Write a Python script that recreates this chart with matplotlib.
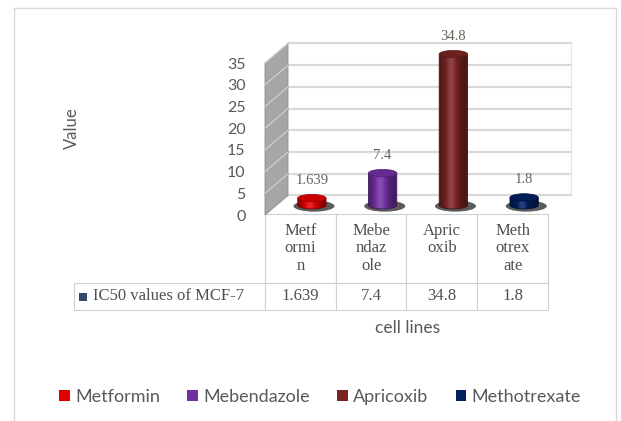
import numpy as np
import matplotlib
matplotlib.use("Agg")
import matplotlib.pyplot as plt
from matplotlib.patches import Ellipse, Polygon, Patch, Rectangle
from matplotlib.lines import Line2D
from matplotlib.colors import to_rgb

# --- data ---
drugs = ['Metformin', 'Mebendazole', 'Apricoxib', 'Methotrexate']
ic50 = [1.639, 7.4, 34.8, 1.8]
header_labels = ['Metf\normi\nn', 'Mebe\nndaz\nole', 'Apric\noxib\n ', 'Meth\notrex\nate']
series_name = 'IC50 values of MCF-7'
colors = ['#e00000', '#7030a0', '#7a2424', '#002060']
yticks = [0, 5, 10, 15, 20, 25, 30, 35]

SANS = 'Lato'
SERIF = 'Liberation Serif'
TXT = '#595959'

# oblique depth of the pseudo-3D box, in data units (x, y)
DEPTH_X, DEPTH_Y = 0.325, 4.5
BAR_W = 0.40
CAP_H = 1.7


def shade(rgb, f):
    rgb = np.asarray(rgb)
    if f <= 1:
        return rgb * f
    return rgb + (1 - rgb) * (f - 1)


def draw_cylinder(ax, xc, base, height, color):
    rgb = np.array(to_rgb(color))
    top = base + height
    w = BAR_W
    # dark shadow under the cylinder
    ax.add_patch(Ellipse((xc + 0.03, base - 0.2), w * 1.45, CAP_H * 1.5,
                         facecolor='#262626', alpha=0.75, lw=0, zorder=3, clip_on=False))
    # body outline: bottom half ellipse + straight sides
    th = np.linspace(np.pi, 2 * np.pi, 40)
    pts = [(xc + w / 2 * np.cos(t), base + CAP_H / 2 * np.sin(t)) for t in th]
    pts += [(xc + w / 2, top), (xc - w / 2, top)]
    body = Polygon(pts, closed=True, facecolor='none', edgecolor=shade(rgb, 0.55),
                   lw=0.6, zorder=5, clip_on=False)
    ax.add_patch(body)
    # horizontal shading across the body
    t = np.linspace(0, 1, 64)
    f = 0.6 + 0.55 * np.exp(-((t - 0.42) / 0.28) ** 2)
    img = np.array([np.clip(shade(rgb, v), 0, 1) for v in f])[None, :, :]
    im = ax.imshow(img, extent=[xc - w / 2, xc + w / 2, base - CAP_H / 2, top],
                   aspect='auto', zorder=4, interpolation='bilinear')
    im.set_clip_path(body)
    # top cap
    ax.add_patch(Ellipse((xc, top), w, CAP_H, facecolor=shade(rgb, 0.9),
                         edgecolor=shade(rgb, 0.7), lw=0.5, zorder=6, clip_on=False))


fig = plt.figure(figsize=(6.21, 4.21), dpi=100)
ax = fig.add_axes([265 / 621, 1 - 215 / 421, 283 / 621, 173.7 / 421])
ax.set_facecolor('none')

x = np.arange(len(drugs))
x0, x1 = -0.5, len(drugs) - 0.5
ymax = yticks[-1]

# back wall gridlines
for v in yticks:
    ax.plot([x0 + DEPTH_X, x1 + DEPTH_X], [v + DEPTH_Y, v + DEPTH_Y],
            color='#d9d9d9', lw=1.6, zorder=1, clip_on=False)
ax.plot([x1 + DEPTH_X, x1 + DEPTH_X], [DEPTH_Y, ymax + DEPTH_Y],
        color='#e4e4e4', lw=0.8, zorder=1, clip_on=False)

# left side wall
ax.add_patch(Polygon([(x0, 0), (x0 + DEPTH_X, DEPTH_Y), (x0 + DEPTH_X, ymax + DEPTH_Y), (x0, ymax)],
                     closed=True, facecolor='#a6a6a6', edgecolor='#8c8c8c', lw=0.6,
                     zorder=2, clip_on=False))
for v in yticks[1:]:
    ax.plot([x0, x0 + DEPTH_X], [v, v + DEPTH_Y], color='#d4d4d4', lw=0.8,
            zorder=2, clip_on=False)

# cylinders sit halfway into the depth
for xi, v, c in zip(x, ic50, colors):
    xc = xi + DEPTH_X / 2
    draw_cylinder(ax, xc, DEPTH_Y / 2, v, c)
    ax.annotate(str(v), (xc, DEPTH_Y / 2 + v), xytext=(0, 13), textcoords='offset points',
                ha='center', va='center', fontsize=10.5, family=SERIF, color='#5e665a',
                zorder=7)

ax.set_xlim(x0, x1)
ax.set_ylim(0, 40)
ax.set_xticks([])
ax.set_yticks(yticks)
ax.tick_params(axis='y', length=0, pad=14, labelsize=11.5, labelcolor=TXT)
for lab in ax.get_yticklabels():
    lab.set_fontfamily(SANS)
for s in ax.spines.values():
    s.set_visible(False)

# data table under the plot (bbox covers the value columns, row label hangs left)
tbl = ax.table(cellText=[[str(v) for v in ic50]], colLabels=header_labels,
               cellLoc='center', bbox=[0, -0.547, 1.0, 0.553])
tbl.add_cell(1, -1, width=0.675, height=0.156, text=series_name, loc='left')
tbl.auto_set_font_size(False)
tbl.set_fontsize(12)
for (r, c), cell in tbl.get_celld().items():
    cell.set_edgecolor('#d0d0d0')
    cell.set_linewidth(0.8)
    cell.set_width(0.675 if c == -1 else 0.25)
    cell.set_height(0.397 if r == 0 else 0.156)
    cell.get_text().set_fontfamily(SERIF)
    cell.get_text().set_color('#505050')
    if r == 0:
        cell.get_text().set_linespacing(1.15)

# series key in the row label
fig.add_artist(Rectangle((79 / 621, 1 - 301 / 421), 8 / 621, 8 / 421,
                         transform=fig.transFigure, facecolor='#34476a', edgecolor='none'))

fig.text(72 / 621, 1 - 128 / 421, 'Value', rotation=90, ha='center', va='center',
         fontsize=12, family=SANS, color=TXT)
fig.text(408 / 621, 1 - 328 / 421, 'cell lines', ha='center', va='center',
         fontsize=12.5, family=SANS, color=TXT)

handles = [Patch(facecolor=c, label=n) for n, c in zip(drugs, colors)]
fig.legend(handles=handles, loc='center', bbox_to_anchor=(320 / 621, 1 - 397 / 421), ncol=4,
           frameon=False, handlelength=0.6, handleheight=0.6, handletextpad=0.3,
           columnspacing=1.5, prop={'family': SANS, 'size': 13}, labelcolor=TXT)

# chart area border
for xs, ys in [([14, 14], [430, 8]), ([14, 616], [8, 8]), ([616, 616], [8, 430])]:
    fig.add_artist(Line2D([v / 621 for v in xs], [1 - v / 421 for v in ys],
                          transform=fig.transFigure, color='#d9d9d9', lw=1))

fig.savefig('out.png', dpi=100, facecolor='white')
